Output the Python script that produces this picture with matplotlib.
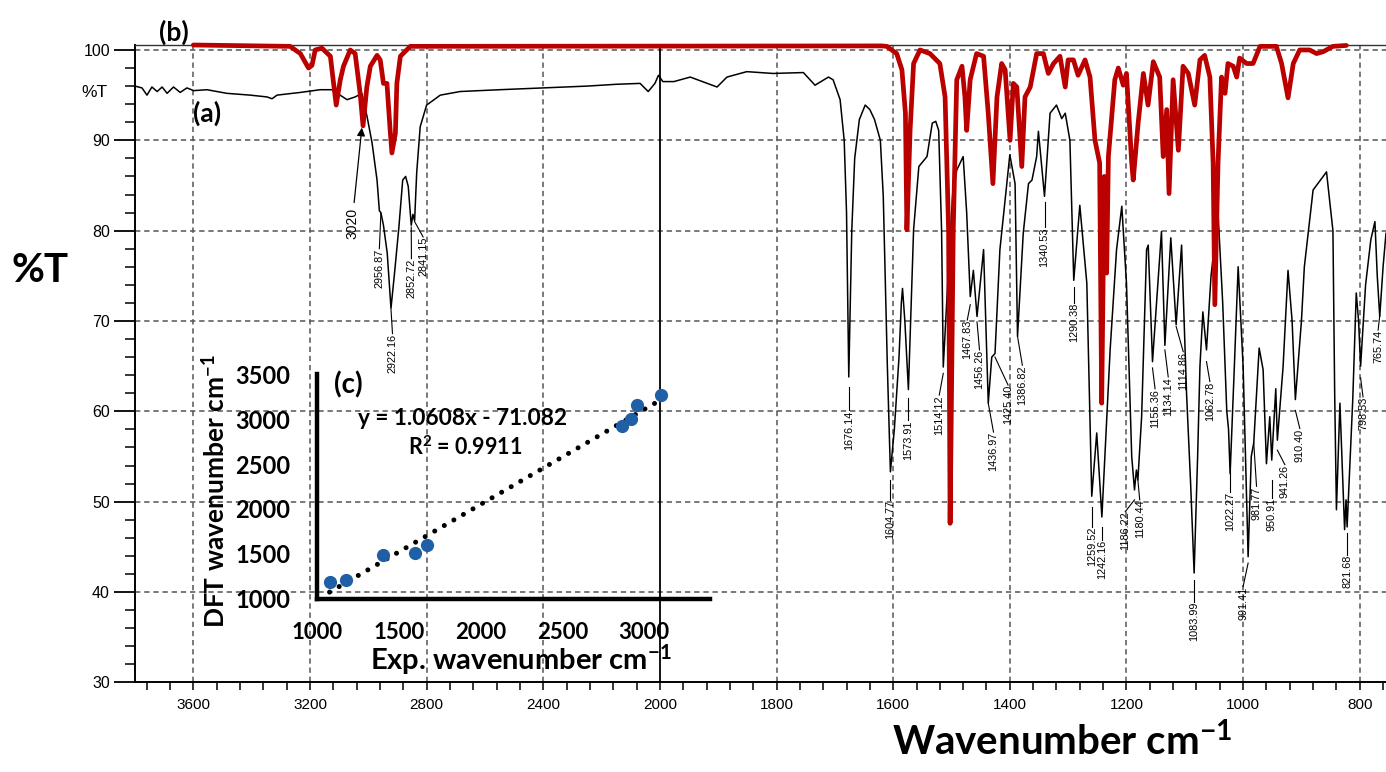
import numpy as np
import matplotlib
matplotlib.use("Agg")
import matplotlib.pyplot as plt
from matplotlib.ticker import FixedLocator, NullFormatter, FixedFormatter

plt.rcParams['font.family'] = ['Liberation Sans', 'DejaVu Sans']
plt.rcParams['mathtext.fontset'] = 'custom'
plt.rcParams['mathtext.rm'] = 'Lato'
plt.rcParams['mathtext.bf'] = 'Lato:bold'
plt.rcParams['mathtext.it'] = 'Lato:italic'

# ---------------- data: (a) experimental FT-IR spectrum ----------------
wn_a = [3800, 3776, 3759, 3742, 3724, 3707, 3690, 3668, 3645, 3622, 3599, 3553, 3485,
        3405, 3347, 3330, 3313, 3233, 3165, 3125, 3073, 3045, 3022, 3004, 2987, 2970,
        2962, 2956.87, 2948, 2935, 2922.16, 2910, 2895, 2882, 2872, 2863, 2852.72,
        2847, 2841.15, 2834, 2822, 2800, 2753, 2685, 2550, 2400, 2250, 2150, 2068,
        2040, 2017, 2005, 1995, 1976, 1948, 1902, 1885, 1851, 1806, 1754, 1734, 1711,
        1703, 1691, 1684, 1680, 1676.14, 1671, 1666, 1658, 1648, 1640, 1632, 1622,
        1617, 1610, 1604.77, 1598, 1590, 1586, 1584, 1580, 1573.91, 1568, 1565, 1556,
        1542, 1533, 1527, 1522, 1517, 1514.12, 1505, 1498, 1491, 1480, 1474, 1467.83,
        1462.5, 1456.26, 1445, 1436.97, 1431, 1425.40, 1417, 1400, 1391, 1386.82, 1377,
        1368, 1362, 1354, 1351, 1340.53, 1331, 1320, 1311, 1305, 1297, 1290.38, 1280,
        1268, 1259.52, 1251, 1242.16, 1228, 1217, 1208, 1200, 1191, 1186.22, 1183,
        1180.44, 1174, 1165.5, 1162.7, 1155.36, 1140, 1134.14, 1124, 1114.86, 1105.5,
        1097, 1090, 1083.99, 1078, 1074, 1069, 1062.78, 1055, 1043, 1035, 1028, 1025,
        1022.27, 1015, 1008.5, 1000, 994, 991.41, 986, 981.77, 972.5, 965.7, 960,
        954.3, 950.91, 944, 941.26, 931.5, 923, 916, 910.40, 900, 895, 880, 857, 846,
        843, 840, 834, 826, 823.5, 821.68, 812, 806, 802, 798.53, 790, 781, 774, 770,
        765.74, 760, 755]
T_a = [96.0, 95.8, 95.0, 95.9, 95.4, 95.9, 95.2, 95.9, 95.3, 95.8, 95.5, 95.6, 95.2,
       95.0, 94.8, 94.6, 95.0, 95.3, 95.6, 95.6, 94.5, 94.8, 95.2, 92.6, 89.7, 85.6,
       82.2, 82.0, 80.6, 77.5, 71.4, 75.3, 80.4, 85.6, 86.0, 84.9, 80.6,
       81.8, 81.1, 86.4, 91.5, 93.9, 95.0, 95.4, 95.6, 95.8, 96.0, 96.2, 96.3,
       95.4, 96.3, 97.2, 96.5, 96.5, 97.0, 95.9, 97.0, 97.6, 97.4, 97.5, 96.1, 97.0,
       96.7, 94.5, 90.0, 82.0, 63.8, 80.0, 88.0, 92.3, 93.9, 93.4, 92.3, 90.0,
       83.8, 65.0, 53.3, 58.0, 66.0, 72.0, 73.6, 70.0, 62.4, 74.0, 80.1, 87.1,
       88.2, 91.9, 92.1, 91.1, 80.0, 64.9, 76.0, 84.0, 86.7, 88.2, 82.0, 72.7,
       75.6, 70.5, 77.9, 60.9, 66.0, 66.4, 77.9, 88.4, 85.2, 68.3, 79.7,
       85.2, 85.6, 88.2, 91.0, 83.8, 93.0, 93.9, 92.4, 93.0, 90.0, 74.5, 82.8,
       74.2, 50.6, 57.6, 48.3, 66.8, 77.9, 82.7, 74.2, 55.0, 51.3, 53.5,
       52.4, 59.4, 77.9, 78.4, 65.5, 79.9, 67.3, 79.2, 69.6, 78.4,
       62.0, 52.0, 42.1, 55.0, 65.0, 71.0, 66.8, 75.0, 82.0, 72.0, 60.0, 58.0,
       53.1, 65.0, 76.0, 65.0, 50.0, 43.9, 55.0, 56.5, 67.0, 64.6, 54.2,
       59.4, 54.6, 62.5, 56.8, 64.9, 75.6, 70.0, 61.3, 70.0, 76.0, 84.5, 86.5, 80.0,
       62.0, 49.1, 60.9, 46.9, 50.2, 47.2, 61.3, 73.1, 70.0, 65.0, 74.0, 79.0, 81.0, 75.0,
       70.5, 76.0, 79.7]

# ---------------- data: (b) DFT computed spectrum ----------------
wn_b = [3600, 3268, 3233, 3205, 3193, 3182, 3159, 3130, 3119, 3110, 3096, 3085, 3062,
        3045, 3028, 3018, 3005, 2993, 2970, 2959, 2948, 2936, 2925, 2919, 2907, 2902,
        2890, 2856, 1620, 1611, 1594, 1585, 1579, 1576.5, 1571, 1565, 1554, 1537, 1520,
        1511, 1505, 1502.4, 1497, 1491, 1482, 1477, 1474, 1468, 1457, 1445, 1437, 1429,
        1422, 1414, 1408, 1399.6, 1394, 1388, 1379.5, 1374, 1365, 1354, 1342.5, 1334,
        1325, 1314, 1305, 1300, 1291, 1283, 1271, 1262.5, 1254, 1246, 1242.5, 1238,
        1234, 1231, 1220, 1214, 1205.5, 1200, 1191, 1188.4, 1180, 1171, 1163, 1154,
        1143, 1137, 1131, 1127, 1120, 1111, 1103, 1094, 1083, 1074, 1066, 1057, 1051.4,
        1048.5, 1043, 1037, 1031, 1026, 1017, 1011, 1006, 994, 983, 971, 943, 934, 923,
        914, 903, 886, 874, 863, 846, 823]
T_b = [100.55, 100.4, 99.6, 98.0, 98.3, 100.0, 100.2, 99.3, 96.3, 93.9, 96.7, 98.2, 100.0,
       99.6, 95.2, 91.6, 95.9, 98.2, 99.4, 98.9, 96.3, 96.3, 91.1, 88.6, 90.8, 96.3,
       99.3, 100.4, 100.45, 100.4, 99.6, 97.8, 93.0, 80.1, 91.1, 98.5, 100.0, 99.6, 98.5,
       94.8, 80.1, 47.6, 80.1, 96.7, 98.2, 94.8, 91.1, 96.7, 99.6, 99.3, 93.0, 85.2,
       94.8, 98.5, 97.8, 90.0, 96.3, 95.9, 87.1, 94.8, 95.9, 99.6, 99.6, 97.4,
       98.5, 99.3, 95.9, 98.9, 98.9, 97.2, 98.9, 97.0, 90.0, 87.5, 60.9, 86.0,
       75.3, 88.2, 96.7, 98.0, 96.1, 97.4, 87.5, 85.6, 91.9, 97.4, 93.9, 98.7,
       97.0, 88.2, 93.4, 84.1, 96.7, 88.9, 98.2, 97.4, 93.9, 98.9, 99.4, 97.0, 87.5,
       71.8, 87.5, 97.0, 95.2, 98.5, 98.2, 97.0, 99.1, 98.5, 98.5, 100.4, 100.4, 98.5, 94.7,
       98.5, 100.0, 100.0, 99.6, 99.8, 100.4, 100.5]

# ---------------- peak labels of spectrum (a) ----------------
peak_wn = [2956.87, 2922.16, 2852.72, 2841.15, 1676.14, 1604.77, 1573.91, 1514.12,
           1467.83, 1456.26, 1436.97, 1425.40, 1386.82, 1340.53, 1290.38, 1259.52,
           1242.16, 1186.22, 1180.44, 1155.36, 1134.14, 1114.86, 1083.99, 1062.78,
           1022.27, 991.41, 981.77, 950.91, 941.26, 910.40, 821.68, 798.53, 765.74]
# layout of the labels: leader start height, text x and text top height
lead_T = [81.9, 71.3, 80.4, 81.0, 62.7, 52.4, 61.5, 64.2,
          71.8, 69.9, 60.9, 66.0, 68.3, 83.2, 73.8, 49.4,
          47.2, 50.2, 52.4, 64.8, 66.8, 69.4, 41.3, 65.5,
          53.5, 43.2, 56.5, 52.4, 55.7, 60.1, 46.5, 63.7, 70.6]
text_x = [2962, 2917, 2852, 2812, 1676.14, 1604.77, 1573.91, 1521,
          1473, 1452, 1428, 1403, 1378.5, 1340.53, 1290.38, 1259.52,
          1242.16, 1202, 1177.3, 1151, 1128.4, 1102.7, 1083.99, 1057,
          1022.27, 1000, 977, 950.91, 928.5, 902.8, 821.68, 794.4, 768.5]
text_T = [78.0, 68.6, 76.9, 79.3, 60.1, 50.2, 59.0, 61.8,
          70.1, 66.8, 57.7, 62.9, 65.1, 80.4, 72.0, 47.2,
          45.8, 48.9, 50.2, 62.5, 63.8, 66.6, 38.9, 63.3,
          51.1, 40.6, 51.7, 50.4, 54.1, 58.1, 44.1, 61.6, 69.0]
arrow_peak = 3020

# ---------------- inset (c): correlation ----------------
exp_wn = [1077, 1178, 1401, 1600, 1670, 2864, 2922, 2955, 3102]
dft_wn = [1186, 1209, 1489, 1507, 1594, 2923, 3006, 3161, 3267]
fit_slope = 1.0608
fit_intercept = -71.082
fit_r2 = 0.9911

# ---------------- figure ----------------
W, H = 1386, 772
fig = plt.figure(figsize=(W / 100, H / 100), dpi=100)


def fx(px):
    return px / W


def fy(py):
    return 1 - py / H


ax = fig.add_axes([fx(135), fy(682.3), 1 - fx(135), fy(45) - fy(682.3)])


def fwd(x):
    x = np.asarray(x, dtype=float)
    return np.where(x > 2000, 2000 + (x - 2000) / 2.0, x)


def inv(t):
    t = np.asarray(t, dtype=float)
    return np.where(t > 2000, 2000 + (t - 2000) * 2.0, t)


ax.set_xscale('function', functions=(fwd, inv))
ax.set_xlim(3800, 755)
ax.set_ylim(30, 100.55)

major_x = [3600, 3200, 2800, 2400, 2000, 1800, 1600, 1400, 1200, 1000, 800]
minor_x = [v for v in range(3760, 2000, -80) if v not in major_x] + \
          [v for v in range(1960, 755, -40) if v not in major_x]
ax.xaxis.set_major_locator(FixedLocator(major_x))
ax.xaxis.set_minor_locator(FixedLocator(minor_x))
ax.xaxis.set_major_formatter(FixedFormatter([str(v) for v in major_x]))
ax.xaxis.set_minor_formatter(NullFormatter())

major_y = [30, 40, 50, 60, 70, 80, 90, 100]
minor_y = [v for v in range(32, 100, 2) if v % 10 != 0]
ax.yaxis.set_major_locator(FixedLocator(major_y))
ax.yaxis.set_minor_locator(FixedLocator(minor_y))
ax.yaxis.set_minor_formatter(NullFormatter())

ax.tick_params(axis='x', which='both', direction='out', length=6, width=1.1,
               labelsize=11, pad=5)
ax.tick_params(axis='y', which='major', direction='out', length=15, width=1.3,
               labelsize=11.5, pad=3)
ax.tick_params(axis='y', which='minor', direction='out', length=7.5, width=1.1)

for s in ['left', 'bottom']:
    ax.spines[s].set_linewidth(1.4)
ax.spines['top'].set_linewidth(1.0)
ax.spines['top'].set_color('#333333')
ax.spines['right'].set_visible(False)

grid_kw = dict(color='#555555', lw=1.1, ls=(0, (3.5, 2.5)), zorder=0)
for v in [3600, 3200, 2800, 2400, 1800, 1600, 1400, 1200, 1000, 800]:
    ax.axvline(v, **grid_kw)
for v in [40, 50, 60, 70, 80, 90, 100]:
    ax.axhline(v, **grid_kw)
ax.axvline(2000, color='black', lw=1.3, zorder=1)

# spectra
ax.plot(wn_a, T_a, color='black', lw=1.1, zorder=3)
ax.plot(wn_b, T_b, color='#BB0000', lw=3.4, zorder=5, solid_joinstyle='round',
        solid_capstyle='round', clip_on=False)

# peak labels
for pw, ly, tx, ty in zip(peak_wn, lead_T, text_x, text_T):
    ax.plot([pw, tx], [ly, ty], color='black', lw=0.8, zorder=4)
    ax.text(tx, ty, f"{pw:.2f}", rotation=90, ha='center', va='top',
            fontsize=7.8, zorder=4)

ax.annotate(str(arrow_peak), xy=(3022, 91.4), xytext=(3056, 82.5), rotation=90,
            ha='center', va='top', fontsize=10, zorder=6,
            arrowprops=dict(arrowstyle='-|>', color='black', lw=0.9,
                            mutation_scale=12, shrinkA=2, shrinkB=0))

# axis texts
ax.text(-0.0216, 95.3, '%T', transform=ax.get_yaxis_transform(), ha='right',
        va='center', fontsize=12.5)
bold = dict(family=['Lato', 'DejaVu Sans'], fontweight='bold')
fig.text(fx(40), fy(270), '%T', ha='center', va='center', fontsize=29, **bold)
fig.text(fx(1062), fy(742), r'Wavenumber cm$^{\mathbf{-1}}$', ha='center',
         va='center', fontsize=29, **bold)
fig.text(fx(174), fy(32), '(b)', ha='center', va='center', fontsize=19, **bold)
fig.text(fx(207.5), fy(113.5), '(a)', ha='center', va='center', fontsize=19, **bold)

# ---------------- inset ----------------
axin = fig.add_axes([fx(317), fy(598.5), fx(710) - fx(317), fy(374) - fy(598.5)])
axin.patch.set_alpha(0)
axin.set_xlim(1000, 3402)
axin.set_ylim(1000, 3507)
for s in ['top', 'right']:
    axin.spines[s].set_visible(False)
for s in ['left', 'bottom']:
    axin.spines[s].set_linewidth(3.2)
axin.set_xticks([1000, 1500, 2000, 2500, 3000])
axin.set_yticks([1000, 1500, 2000, 2500, 3000, 3500])
axin.tick_params(axis='x', length=0, pad=17, labelsize=16)
axin.tick_params(axis='y', length=0, pad=19, labelsize=17)
for lab in axin.get_xticklabels() + axin.get_yticklabels():
    lab.set_fontfamily(['Lato', 'DejaVu Sans'])
    lab.set_fontweight('bold')

fit_x = np.array([min(exp_wn), max(exp_wn)])
axin.plot(fit_x, fit_slope * fit_x + fit_intercept, color='black', lw=3.6,
          ls=(0, (0.01, 2.2)), dash_capstyle='round', zorder=3)
axin.plot(exp_wn, dft_wn, 'o', color='#1F5FA6', ms=8.5, zorder=4, clip_on=False)

axin.text(0.37, 0.80, f'y = {fit_slope}x - {abs(fit_intercept)}', transform=axin.transAxes,
          ha='center', va='center', fontsize=16.3, **bold)
axin.text(0.377, 0.672, r'R$^{\mathbf{2}}$ = ' + f'{fit_r2}', transform=axin.transAxes,
          ha='center', va='center', fontsize=15.5, **bold)
axin.text(0.079, 0.95, '(c)', transform=axin.transAxes, ha='center', va='center',
          fontsize=20, **bold)
axin.text(0.52, -0.272, r'Exp. wavenumber cm$^{\mathbf{-1}}$', transform=axin.transAxes,
          ha='center', va='center', fontsize=21, **bold)
axin.text(-0.26, 0.478, r'DFT wavenumber cm$^{\mathbf{-1}}$', transform=axin.transAxes,
          ha='center', va='center', rotation=90, fontsize=19, **bold)

fig.savefig('out.png', dpi=100)
